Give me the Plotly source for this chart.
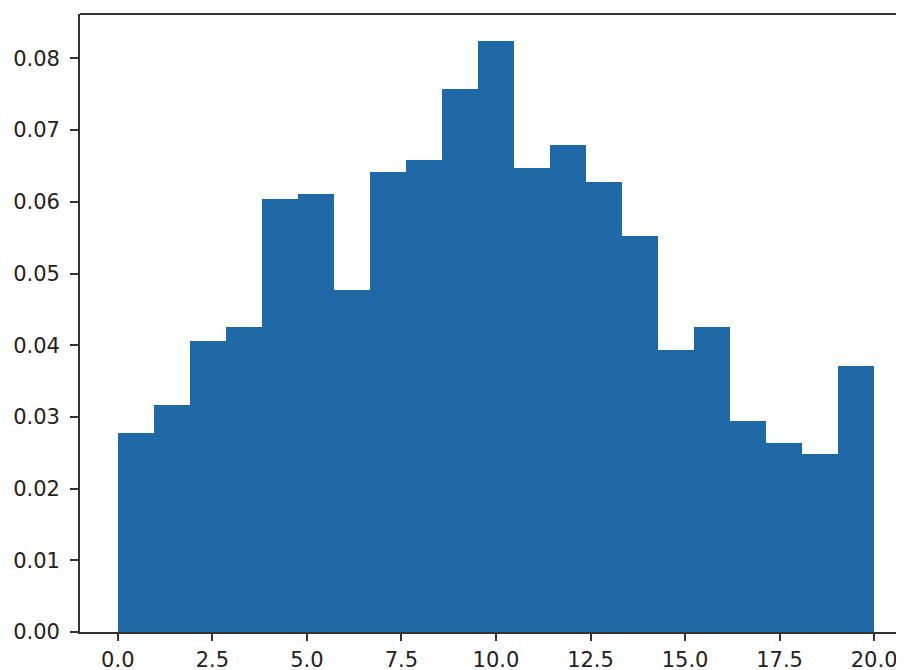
import numpy as np
import plotly.graph_objects as go

# Histogram: 21 equal bins spanning 0..20 (density values)
bin_start = 0.0
bin_end = 20.0
n_bins = 21
density = [0.0278, 0.0316, 0.0406, 0.0426, 0.0604, 0.0611, 0.0477, 0.0641,
           0.0659, 0.0757, 0.0824, 0.0647, 0.0679, 0.0628, 0.0552, 0.0394,
           0.0426, 0.0294, 0.0264, 0.0248, 0.0371]
x_ticks = [0.0, 2.5, 5.0, 7.5, 10.0, 12.5, 15.0, 17.5, 20.0]
x_tick_labels = ["0.0", "2.5", "5.0", "7.5", "10.0", "12.5", "15.0", "17.5", "20.0"]
y_ticks = [0.00, 0.01, 0.02, 0.03, 0.04, 0.05, 0.06, 0.07, 0.08]
y_tick_labels = ["0.00", "0.01", "0.02", "0.03", "0.04", "0.05", "0.06", "0.07", "0.08"]

edges = np.linspace(bin_start, bin_end, n_bins + 1)
centers = (edges[:-1] + edges[1:]) / 2
width = edges[1] - edges[0]

fig = go.Figure()
fig.add_trace(go.Bar(
    x=centers, y=density, width=width,
    marker=dict(color="#1f6aa6", line=dict(width=0)),
    hoverinfo="skip",
))

# page body adds an 8px margin, so the figure is sized/offset to compensate
fig.update_layout(
    width=896, height=662,
    margin=dict(l=72, r=0, t=6, b=38),
    paper_bgcolor="white", plot_bgcolor="white",
    showlegend=False, bargap=0,
    font=dict(family="DejaVu Sans", size=21, color="#222"),
)
fig.update_xaxes(
    range=[-1.0, 20.79], tickvals=x_ticks, ticktext=x_tick_labels,
    showgrid=False, zeroline=False, showline=True, linecolor="#333", linewidth=1.8,
    ticks="outside", ticklen=7, tickwidth=1.5, tickcolor="#333",
    ticklabelstandoff=1, automargin=False,
)
fig.update_yaxes(
    range=[0, 0.0862], tickvals=y_ticks, ticktext=y_tick_labels,
    showgrid=False, zeroline=False, showline=True, linecolor="#333", linewidth=1.8,
    ticks="outside", ticklen=8, tickwidth=1.5, tickcolor="#333",
    ticklabelstandoff=6, automargin=False,
)
# top spine
fig.add_shape(type="line", xref="paper", yref="paper", x0=0, x1=1, y0=1, y1=1,
              line=dict(color="#333", width=1.8))

fig.write_html("out.html")
